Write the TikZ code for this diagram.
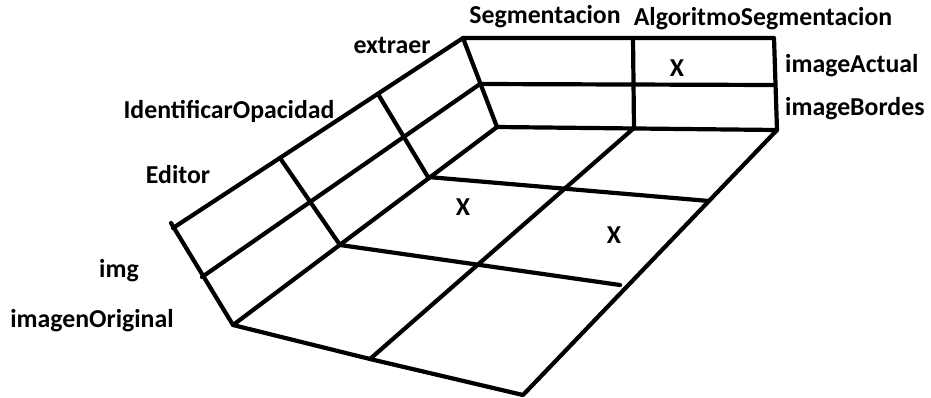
\documentclass[tikz,border=0pt]{standalone}
\usepackage{fontspec}
\setmainfont{Carlito}
\begin{document}
\begin{tikzpicture}[x=1pt,y=-1pt,
  edge/.style={line width=4.2pt,line cap=round,line join=round},
  lbl/.style={font=\bfseries\fontsize{25.8}{28}\selectfont,inner sep=0pt,anchor=base},
  xmark/.style={font=\bfseries\fontsize{25.8}{28}\selectfont,inner sep=0pt}]
\useasboundingbox[fill=white] (0,0) rectangle (931,397);
% back wall
\coordinate (A) at (463,38);
\coordinate (B) at (774,38);
\coordinate (BM) at (480,84);
\coordinate (BMR) at (774,85);
\coordinate (C) at (497,127);
\coordinate (D) at (777,130);
\coordinate (BVt) at (633,38);
\coordinate (BVb) at (634,128);
% left wall
\coordinate (LT) at (173,228);
\coordinate (LTx) at (171,223);
\coordinate (LM) at (202,277);
\coordinate (LF) at (233,325);
\coordinate (D1t) at (280,158);
\coordinate (D1b) at (340,245);
\coordinate (D2t) at (378,94);
\coordinate (D2b) at (428,177);
% floor
\coordinate (E) at (523,395);
\coordinate (FM) at (370,359);
\coordinate (F1R) at (709,201);
\coordinate (F2R) at (620,285);

\draw[edge] (A) -- (B) -- (D) -- (C) -- cycle;
\draw[edge] (BM) -- (BMR);
\draw[edge] (BVt) -- (BVb);
\draw[edge] (A) -- (LT);
\draw[edge] (LTx) -- (LF) -- (C);
\draw[edge] (LM) -- (BM);
\draw[edge] (D1t) -- (D1b);
\draw[edge] (D2t) -- (D2b);
\draw[edge] (LF) -- (FM) -- (E) -- (D);
\draw[edge] (BVb) -- (FM);
\draw[edge] (D2b) -- (F1R);
\draw[edge] (D1b) -- (F2R);

% labels
\node[lbl] (seg) at (545,23) {Segmentacion};
\node[lbl] (alg) at (763,25) {AlgoritmoSegmentacion};
\node[lbl,anchor=base west] (iact) at (785,72) {imageActual};
\node[lbl,anchor=base west] (ibor) at (785,115) {imageBordes};
\node[lbl] (ext) at (392,53) {extraer};
\node[lbl] (ido) at (229,118) {IdentificarOpacidad};
\node[lbl] (edi) at (178,183) {Editor};
\node[lbl] (img) at (119,277) {img};
\node[lbl] (iorig) at (92,327) {imagenOriginal};
\node[xmark] (x1) at (677,68) {X};
\node[xmark] (x2) at (463,207) {X};
\node[xmark] (x3) at (614,235) {X};
\end{tikzpicture}
\end{document}
